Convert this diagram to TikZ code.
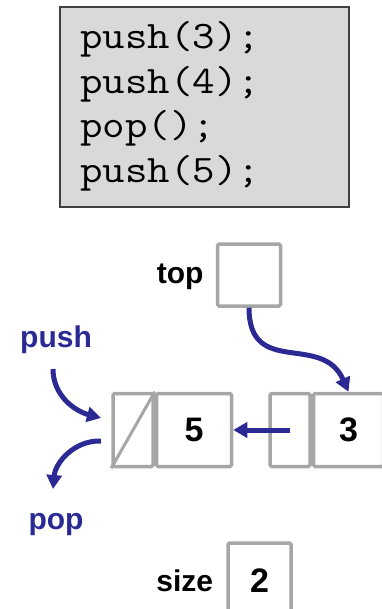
\documentclass[tikz,border=0pt]{standalone}
\usepackage{fontspec}
\setmainfont{Liberation Sans}
\usetikzlibrary{arrows.meta,positioning}
\definecolor{ptrblue}{RGB}{43,42,148}
\definecolor{cellgray}{RGB}{166,166,166}
\definecolor{codefill}{RGB}{217,217,217}
\definecolor{codeedge}{RGB}{64,64,64}
\newcommand{\codeline}[1]{\scalebox{1.12}[1]{#1}}
\tikzset{
  cell/.style={draw=cellgray, line width=3.5pt, rounded corners=1.5pt, inner sep=0pt, fill=white,
    font=\fontsize{34}{40}\selectfont\bfseries},
  lbl/.style={font=\fontsize{30}{36}\selectfont\bfseries, inner sep=0pt},
  bluelbl/.style={lbl, text=ptrblue},
  ptr/.style={draw=ptrblue, line width=5pt, -{Triangle[length=14pt,width=15pt]}},
  codebox/.style={draw=codeedge, line width=1.5pt, fill=codefill, inner sep=0pt,
    minimum width=289pt, minimum height=200pt},
  codetext/.style={anchor=base west, inner sep=0pt, font=\ttfamily\fontsize{39}{44}\selectfont},
}
\begin{document}
\begin{tikzpicture}[x=1pt,y=-1pt]
\useasboundingbox (0,0) rectangle (381,609);
% code box
\node[codebox] (code) at (204.5,107) {};
\node[codetext] (line1) at (80,49) {\codeline{push(3);}};
\node[codetext] (line2) at (80,94) {\codeline{push(4);}};
\node[codetext] (line3) at (80,138) {\codeline{pop();}};
\node[codetext] (line4) at (80,183) {\codeline{push(5);}};
% top pointer
\node[cell, minimum width=63pt, minimum height=62pt] (top) at (249,275) {};
\node[lbl, left=12pt of top, yshift=-2pt] (toplbl) {top};
% node 5
\node[cell, minimum width=40pt, minimum height=73pt] (n5l) at (133,430) {};
\node[cell, minimum width=75pt, minimum height=73pt, anchor=west] (n5r) at (n5l.east) {5};
\draw[draw=cellgray, line width=3pt] (n5l.south west) -- (n5l.north east);
% node 3
\node[cell, minimum width=40pt, minimum height=73pt] (n3l) at (290,430) {};
\node[cell, minimum width=70pt, minimum height=73pt, anchor=west] (n3r) at (n3l.east) {3};
% size
\node[cell, minimum width=63pt, minimum height=75pt] (size) at (259.5,580.5) {2};
\node[lbl, left=13pt of size] (sizelbl) {size};
% labels
\node[bluelbl] (pushlbl) at (56,340) {push};
\node[bluelbl] (poplbl) at (56,525) {pop};
% coordinates for free ends
\coordinate (pushA) at (53,369);
\coordinate (pushB) at (101,418);
\coordinate (popA) at (101,441);
\coordinate (popB) at (53,489);
% connectors
\draw[ptr] (top.south) .. controls (249,378) and (322,332) .. (n3r.north);
\draw[ptr] (n3l.center) -- (n5r.east);
\draw[ptr] (pushA) to[out=-90,in=165] (pushB);
\draw[ptr] (popA) to[out=178,in=85] (popB);
\end{tikzpicture}
\end{document}
